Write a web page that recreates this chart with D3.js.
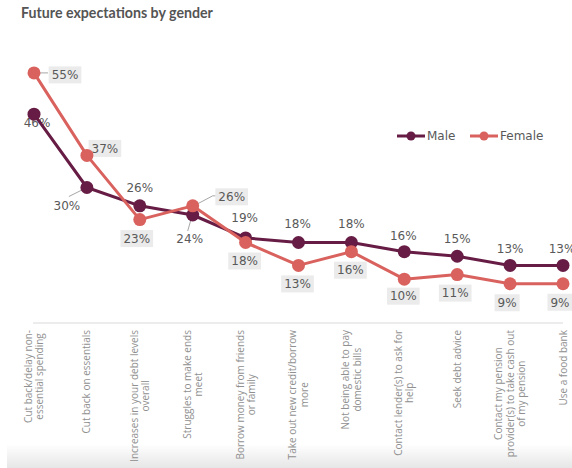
<!DOCTYPE html>
<html>
<head>
<meta charset="utf-8">
<script src="https://cdn.jsdelivr.net/npm/d3@7"></script>
<style>
  html, body { margin: 0; padding: 0; background: #fff; }
  svg { display: block; }
</style>
</head>
<body>
<svg id="chart" width="572" height="468"></svg>
<script>
// Survey answers, one per category on the x axis (line breaks as displayed)
const categories = [
  ["Cut back/delay non-", "essential spending"],
  ["Cut back on essentials"],
  ["Increases in your debt levels", "overall"],
  ["Struggles to make ends", "meet"],
  ["Borrow money from friends", "or family"],
  ["Take out new credit/borrow", "more"],
  ["Not being able to pay", "domestic bills"],
  ["Contact lender(s) to ask for", "help"],
  ["Seek debt advice"],
  ["Contact my pension", "provider(s) to take cash out", "of my pension"],
  ["Use a food bank"]
];

// Share of respondents (%)
const maleValues   = [46, 30, 26, 24, 19, 18, 18, 16, 15, 13, 13];
const femaleValues = [55, 37, 23, 26, 18, 13, 16, 10, 11, 9, 9];

const seriesNames = ["Male", "Female"];

// Label placement relative to each marker [dx, dy]
const maleLabelOffsets = [[3, 9], [-20, 18.5], [0, -18], [-3, 24], [-1, -20], [-1, -18.5],
  [0, -18.5], [-1, -16], [0, -18], [0, -16.5], [-1, -16.5]];
const femaleLabelOffsets = [[31, 2], [18, -7], [-3, 19], [39, -9], [-1, 18.5], [-1, 18.5],
  [-1, 18.5], [-1, 17], [-2, 18.5], [-3, 19], [-3, 18.5]];

const colors = { Male: "#661c44", Female: "#d9625e" };
const labelColor = "#595959";
const leaderColor = "#a6a6a6";

const svg = d3.select("#chart");
const W = 572, H = 468;

// Soft grey band along the bottom edge
const defs = svg.append("defs");
const grad = defs.append("linearGradient").attr("id", "footShade")
  .attr("x1", 0).attr("y1", 0).attr("x2", 0).attr("y2", 1);
grad.append("stop").attr("offset", "0%").attr("stop-color", "#ffffff");
grad.append("stop").attr("offset", "100%").attr("stop-color", "#e6e6e6");
svg.append("rect").attr("x", 7).attr("y", 444).attr("width", W - 7).attr("height", H - 444)
  .attr("fill", "url(#footShade)");

// Title
svg.append("text")
  .attr("x", 21).attr("y", 18)
  .attr("font-family", "Lato, 'Open Sans', sans-serif")
  .attr("font-weight", 700)
  .attr("font-size", 14.2)
  .attr("fill", "#555555")
  .text("Future expectations by gender");

const x = d3.scalePoint().domain(d3.range(categories.length)).range([34, 563]);
const y = d3.scaleLinear().domain([0, 60]).range([325, 50]);

// Category axis
const axisY = 323;
const xAxis = svg.append("g").attr("transform", `translate(0,${axisY})`)
  .call(d3.axisBottom(x).tickSize(0).tickFormat(""));
xAxis.select(".domain").attr("stroke", "#d9d9d9").attr("stroke-width", 1)
  .attr("d", `M${x(0) - 1},0H${x(categories.length - 1)}`);

// Rotated category labels, lines centred on each other, block ending near the axis
const labelTop = 330;
const lineGap = 11.2;
const catG = svg.append("g")
  .attr("font-family", "'Open Sans', sans-serif")
  .attr("font-size", 10)
  .attr("fill", "#909090");
categories.forEach((lines, i) => {
  const g = catG.append("g").attr("transform", `translate(${x(i)},${labelTop}) rotate(-90)`);
  const texts = lines.map((ln, j) => g.append("text")
    .attr("text-anchor", "middle")
    .attr("dy", "0.35em")
    .attr("y", (j - (lines.length - 1) / 2) * lineGap)
    .text(ln));
  const maxW = d3.max(texts, t => t.node().getComputedTextLength());
  texts.forEach(t => t.attr("x", -maxW / 2));
});

const series = [
  { name: "Male", values: maleValues, offsets: maleLabelOffsets, boxed: false },
  { name: "Female", values: femaleValues, offsets: femaleLabelOffsets, boxed: true }
];

// Leader lines tying displaced labels to their markers
const leaders = [
  { s: "Female", i: 0, path: (px, py) => [[px + 4, py], [px + 14, py]] },
  { s: "Male", i: 1, path: (px, py) => [[px - 2, py + 1], [px - 18, py + 9]] },
  { s: "Male", i: 3, path: (px, py) => [[px - 1, py + 2], [px - 5, py + 16]] },
  { s: "Female", i: 3, path: (px, py) => [[px + 3, py - 1], [px + 20, py - 10], [px + 23, py - 10]] }
];
const leaderG = svg.append("g");
leaders.forEach(l => {
  const vals = l.s === "Male" ? maleValues : femaleValues;
  const pts = l.path(x(l.i), y(vals[l.i]));
  leaderG.append("path")
    .attr("d", d3.line()(pts))
    .attr("fill", "none")
    .attr("stroke", leaderColor)
    .attr("stroke-width", 1);
});

// Data labels
const labelG = svg.append("g")
  .attr("font-family", "'DejaVu Sans', sans-serif")
  .attr("font-size", 12)
  .attr("fill", labelColor);
series.forEach(s => {
  s.values.forEach((v, i) => {
    const cx = x(i) + s.offsets[i][0];
    const cy = y(v) + s.offsets[i][1];
    const g = labelG.append("g");
    const t = g.append("text")
      .attr("x", cx).attr("y", cy)
      .attr("dy", "0.36em")
      .attr("text-anchor", "middle")
      .text(v + "%");
    if (s.boxed) {
      const w = t.node().getComputedTextLength();
      g.insert("rect", "text")
        .attr("x", cx - w / 2 - 3).attr("y", cy - 8.5)
        .attr("width", w + 6).attr("height", 17)
        .attr("fill", "#ebebeb");
    }
  });
});

// Lines and markers
const line = d3.line().x((d, i) => x(i)).y(d => y(d));
series.forEach(s => {
  const g = svg.append("g");
  g.append("path")
    .attr("d", line(s.values))
    .attr("fill", "none")
    .attr("stroke", colors[s.name])
    .attr("stroke-width", 3)
    .attr("stroke-linejoin", "round");
  g.selectAll("circle").data(s.values).join("circle")
    .attr("cx", (d, i) => x(i))
    .attr("cy", d => y(d))
    .attr("r", 6.5)
    .attr("fill", colors[s.name]);
});

// Legend
const legendItems = [
  { name: seriesNames[0], x0: 397 },
  { name: seriesNames[1], x0: 470 }
];
const legendY = 136;
const legG = svg.append("g");
legendItems.forEach(it => {
  legG.append("line")
    .attr("x1", it.x0).attr("x2", it.x0 + 28)
    .attr("y1", legendY).attr("y2", legendY)
    .attr("stroke", colors[it.name]).attr("stroke-width", 3);
  legG.append("circle")
    .attr("cx", it.x0 + 14).attr("cy", legendY).attr("r", 4.5)
    .attr("fill", colors[it.name]);
  legG.append("text")
    .attr("x", it.x0 + 30).attr("y", legendY)
    .attr("dy", "0.36em")
    .attr("font-family", "'DejaVu Sans', sans-serif")
    .attr("font-size", 12)
    .attr("fill", labelColor)
    .text(it.name);
});
</script>
</body>
</html>
